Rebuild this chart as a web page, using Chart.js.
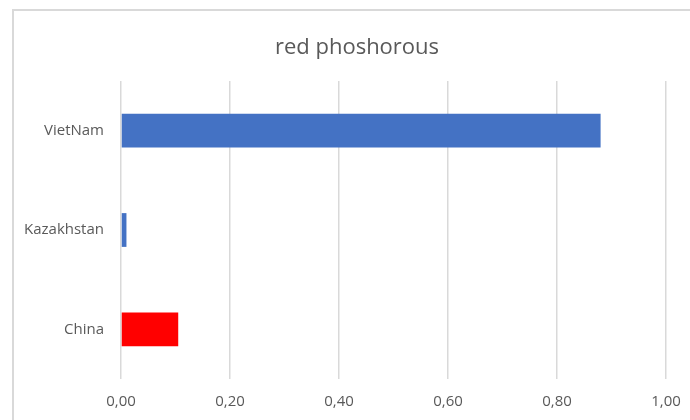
<!DOCTYPE html>
<html>
<head>
<meta charset="utf-8">
<script src="https://cdn.jsdelivr.net/npm/chart.js@4"></script>
<style>
    html, body { margin: 0; padding: 0; background: #fff; overflow: hidden; }
    #frame {
        position: absolute; left: 12px; top: 9px;
        width: 720px; height: 450px;
        border: 2px solid #d9d9d9;
    }
    #wrap { position: absolute; left: 0; top: 0; width: 690px; height: 420px; }
    /* title sits over the whole frame, not just the plot, so it is placed here */
    #title {
        position: absolute; left: 24px; top: 33px; width: 666px;
        text-align: center;
        font: 22px/24px 'Open Sans', sans-serif;
        color: #595959;
    }
</style>
</head>
<body>
<div id="frame"></div>
<div id="wrap"><canvas id="phChart" width="690" height="420"></canvas></div>
<div id="title"></div>
<script>
// Chart data
const titleText = 'red phoshorous';
const countries = ['VietNam', 'Kazakhstan', 'China'];
const values = [0.88, 0.01, 0.105];
const barColors = ['#4472C4', '#4472C4', '#FF0000'];
const tickMin = 0;
const tickMax = 1;
const tickStep = 0.2;

const textGray = '#595959';
const gridGray = '#d9d9d9';

function createChart() {
    document.getElementById('title').textContent = titleText;

    const ctx = document.getElementById('phChart').getContext('2d');
    new Chart(ctx, {
        type: 'bar',
        data: {
            labels: countries,
            datasets: [{
                data: values,
                backgroundColor: barColors,
                borderWidth: 0,
                barPercentage: 0.34,
                categoryPercentage: 1
            }]
        },
        options: {
            indexAxis: 'y',
            responsive: false,
            animation: false,
            layout: {
                padding: { left: 0, right: 24, top: 81, bottom: 0 }
            },
            plugins: {
                legend: { display: false },
                tooltip: { enabled: false },
                title: { display: false }
            },
            scales: {
                x: {
                    min: tickMin,
                    max: tickMax,
                    grid: {
                        color: gridGray,
                        lineWidth: 1.5,
                        drawTicks: false
                    },
                    border: { display: false },
                    ticks: {
                        stepSize: tickStep,
                        padding: 14,
                        color: textGray,
                        font: { family: 'Open Sans', size: 15 },
                        callback: v => v.toFixed(2).replace('.', ',')
                    },
                    // fixed height, and no extra room kept for the end labels
                    afterFit: scale => {
                        scale.height = 41;
                        scale.paddingLeft = 0;
                        scale.paddingRight = 0;
                    }
                },
                y: {
                    grid: { display: false, drawTicks: false },
                    border: { display: false },
                    ticks: {
                        padding: 17,
                        color: textGray,
                        font: { family: 'Open Sans', size: 15 }
                    },
                    afterFit: scale => { scale.width = 121; }
                }
            }
        }
    });
}

window.addEventListener('DOMContentLoaded', () => {
    createChart();
});
</script>
</body>
</html>
